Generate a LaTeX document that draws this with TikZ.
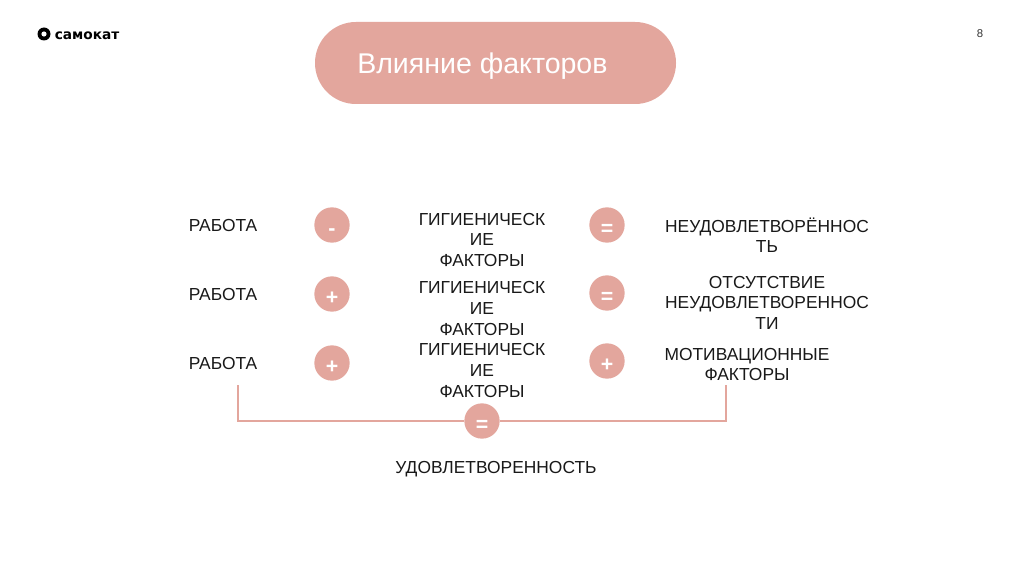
\documentclass[tikz,border=0pt]{standalone}
\usepackage{fontspec}
\setmainfont{Liberation Sans}
\newfontfamily\logofont{DejaVu Sans}
\usetikzlibrary{positioning}
\definecolor{rosefill}{HTML}{E3A69D}
\newcommand{\signmark}[1]{\raisebox{-7.9pt}[0pt][0pt]{#1}}
\tikzset{
  factortext/.style={align=center, inner sep=0pt, font=\fontsize{13.05}{15.4}\selectfont, text=black!90},
  signdot/.style={circle, fill=rosefill, minimum size=26.5pt, inner sep=0pt, text=white, font=\bfseries\fontsize{16}{16}\selectfont},
  bracketline/.style={draw=rosefill, line width=1.5pt}
}
\begin{document}
\begin{tikzpicture}[x=0.75pt, y=-0.75pt]
  \useasboundingbox[fill=white] (0,0) rectangle (1024,574);
  % Logo and page number
  \fill[black] (44,34) circle (6.5);
  \fill[white] (44,34) circle (2.6);
  \fill[white] (37,27.5) -- (41,27.5) -- (37,31.5) -- cycle;
  \node[inner sep=0pt, anchor=west, font=\logofont\bfseries\fontsize{10.3}{12}\selectfont] (logo) at (54.5,35.5) {самокат};
  \node[inner sep=0pt, font=\fontsize{8.5}{10}\selectfont, text=black!80] (pagenum) at (980,34) {8};
  % Title
  \node[rounded corners=30.7pt, fill=rosefill, minimum width=270.75pt, minimum height=61.5pt, inner sep=0pt] (titlebox) at (495.5,63) {};
  \node[inner sep=0pt, anchor=west, text=white, font=\fontsize{21.4}{24}\selectfont] (title) at (357,66) {Влияние факторов};
  % First column
  \node[factortext] (work1) at (223,226) {РАБОТА};
  \node[factortext] (work2) at (223,294.5) {РАБОТА};
  \node[factortext] (work3) at (223,363.5) {РАБОТА};
  % Signs after work
  \node[signdot] (sign1) at (332,225) {\signmark{-}};
  \node[signdot] (sign2) at (332,294) {\signmark{+}};
  \node[signdot] (sign3) at (332,363) {\signmark{+}};
  % Middle column
  \node[factortext] (hyg1) at (482,240) {ГИГИЕНИЧЕСК\\ИЕ\\ФАКТОРЫ};
  \node[factortext] (hyg2) at (482,308.5) {ГИГИЕНИЧЕСК\\ИЕ\\ФАКТОРЫ};
  \node[factortext] (hyg3) at (482,370.5) {ГИГИЕНИЧЕСК\\ИЕ\\ФАКТОРЫ};
  % Signs before result
  \node[signdot] (res1) at (607,225) {\signmark{=}};
  \node[signdot] (res2) at (607,293) {\signmark{=}};
  \node[signdot] (res3) at (607,361) {\signmark{+}};
  % Results
  \node[factortext] (out1) at (767,235) {НЕУДОВЛЕТВОРЁННОС\\ТЬ};
  \node[factortext] (out2) at (767,302.5) {ОТСУТСТВИЕ\\НЕУДОВЛЕТВОРЕННОС\\ТИ};
  \node[factortext] (out3) at (747,364.5) {МОТИВАЦИОННЫЕ\\ФАКТОРЫ};
  % Bracket
  \coordinate (leftend) at (237.5,385);
  \coordinate (rightend) at (726,385);
  \node[signdot] (total) at (482,421) {\signmark{=}};
  \draw[bracketline] (leftend) |- (total);
  \draw[bracketline] (rightend) |- (total);
  \node[factortext] (joy) at (496,469) {УДОВЛЕТВОРЕННОСТЬ};
\end{tikzpicture}
\end{document}
